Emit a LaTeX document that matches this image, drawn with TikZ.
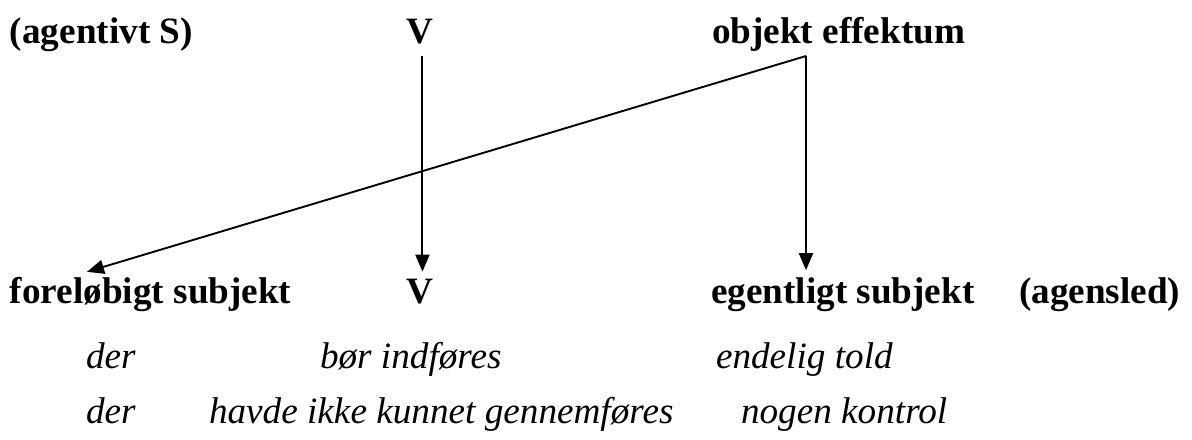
\documentclass[tikz,border=0pt]{standalone}
\usepackage{fontspec}
\setmainfont{Liberation Serif}
\usetikzlibrary{arrows.meta,calc}
\begin{document}
\begin{tikzpicture}[x=0.5pt,y=-0.5pt,
  lbl/.style={anchor=base west,inner sep=0pt,outer sep=0pt,font=\fontsize{18.6}{22}\selectfont\bfseries},
  ex/.style={anchor=base west,inner sep=0pt,outer sep=0pt,font=\fontsize{18.6}{22}\selectfont\itshape},
  conn/.style={line width=0.95pt,-{Triangle[length=8.5pt,width=7pt]}}]
\useasboundingbox (0,0) rectangle (1192,439);
% top row
\node[lbl] (agS) at (10,43) {(agentivt S)};
\node[lbl] (V1) at (406,43) {V};
\node[lbl] (obj) at (712,43) {objekt effektum};
% bottom row
\node[lbl] (fs) at (10,303) {foreløbigt subjekt};
\node[lbl] (V2) at (406,303) {V};
\node[lbl] (eg) at (711,303) {egentligt subjekt};
\node[lbl] (ag) at (1019,303) {(agensled)};
% examples
\node[ex] (d1) at (86,368) {der};
\node[ex] (b1) at (320,368) {bør indføres};
\node[ex] (e1) at (716,368) {endelig told};
\node[ex] (d2) at (86,423) {der};
\node[ex] (h2) at (209,423) {havde ikke kunnet gennemføres};
\node[ex] (n2) at (741,423) {nogen kontrol};
% connectors
\coordinate (k) at (806,56);
\coordinate (fstip) at ($(fs.north west)+(77,-5)$);
\coordinate (egtip) at ($(k |- eg.north)+(0,-7)$);
\coordinate (vtop) at ($(V1.south)+(3,12)$);
\coordinate (vtip) at ($(V2.north)+(3,-7)$);
\draw[conn] (vtop) -- (vtip);
\draw[conn] (k) -- (egtip);
\draw[conn] (k) -- (fstip);
\end{tikzpicture}
\end{document}
